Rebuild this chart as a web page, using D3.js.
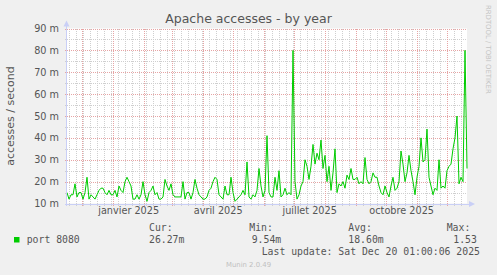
<!DOCTYPE html>
<html>
<head>
<meta charset="utf-8">
<script src="https://cdn.jsdelivr.net/npm/d3@7"></script>
<style>
  body { margin: 0; background: #f0f0f0; }
  svg { display: block; }
  text { font-family: "DejaVu Sans", sans-serif; fill: #555; }
  .mono { font-family: "DejaVu Sans Mono", monospace; }
</style>
</head>
<body>
<svg id="chart" width="497" height="275"></svg>
<script>
// accesses per second (in milli), one sample every 2 days
const accessesMilli = [
  15,12,14,14,19,13,15,15,12,15,
  22,12,14,13,12,14,16,17,17,15,
  14,16,14,14,16,13,18,16,15,20,
  22,20,18,12,12,14,12,14,20,14,
  11,15,16,18,14,15,12,12,13,21,
  18,16,19,14,13,13,13,13,20,12,
  15,15,12,15,21,17,14,13,12,12,
  13,16,17,20,22,21,14,13,12,18,
  14,14,22,15,11,12,13,14,16,14,
  29,13,
  12,14,13,16,26,18,13,16,
  41,15,13,13,22,16,25,13,14,17,
  14,15,14,80,20,12,14,18,20,30,
  27,21,27,37,28,33,30,39,26,32,
  20,27,16,24,35,15,19,18,20,17,
  23,21,26,21,21,22,19,20,19,31,
  21,
  19,20,24,22,22,18,15,14,18,15,
  13,18,22,16,17,20,34,28,20,24,
  32,25,20,14,22,27,40,29,30,44,
  22,18,14,17,16,30,17,18,17,25,
  27,28,35,40,50,19,22,20,80,26
];
const sampleDays = 2;
const rangeStart = Date.UTC(2024, 10, 16, 8);
const rangeEnd = Date.UTC(2025, 11, 21, 8);

const yTicks = [10, 20, 30, 40, 50, 60, 70, 80, 90];
const yMinorTicks = [15, 25, 35, 45, 55, 65, 75, 85];
const monthLabels = [
  { date: Date.UTC(2025, 0, 16, 12), label: "janvier 2025" },
  { date: Date.UTC(2025, 3, 16), label: "avril 2025" },
  { date: Date.UTC(2025, 6, 16, 12), label: "juillet 2025" },
  { date: Date.UTC(2025, 9, 16, 12), label: "octobre 2025" }
];
const legendHeads = ["Cur:", "Min:", "Avg:", "Max:"];
const legendValues = ["26.27m", "9.54m", "18.60m", "1.53"];

const svg = d3.select("#chart");
const dayMs = 864e5;
const data = accessesMilli.map((v, i) => ({ date: new Date(rangeStart + i * sampleDays * dayMs), v }));

const x = d3.scaleUtc()
  .domain([new Date(rangeStart), new Date(rangeEnd)])
  .range([67, 467]);
const y = d3.scaleLinear()
  .domain([10, 90])
  .range([203.5, 28.5]);

// background / canvas
svg.append("rect").attr("width", 497).attr("height", 275).attr("fill", "#f0f0f0");
svg.append("rect")
  .attr("x", x.range()[0]).attr("y", y.range()[1])
  .attr("width", x.range()[1] - x.range()[0])
  .attr("height", y.range()[0] - y.range()[1])
  .attr("fill", "#fff");

const grid = svg.append("g").attr("shape-rendering", "crispEdges").attr("stroke-dasharray", "1,1");

// minor grid
grid.selectAll(".hmin").data(yMinorTicks).enter().append("line")
  .attr("x1", x.range()[0] - 2).attr("x2", x.range()[1])
  .attr("y1", d => Math.round(y(d)) + 0.5).attr("y2", d => Math.round(y(d)) + 0.5)
  .attr("stroke", "#cfcfcf");
grid.selectAll(".vmin").data(d3.utcMonday.range(x.domain()[0], x.domain()[1])).enter().append("line")
  .attr("x1", d => Math.round(x(d)) + 0.5).attr("x2", d => Math.round(x(d)) + 0.5)
  .attr("y1", y.range()[1]).attr("y2", y.range()[0] + 2)
  .attr("stroke", "#cfcfcf");

// major grid
grid.selectAll(".hmaj").data(yTicks).enter().append("line")
  .attr("x1", x.range()[0] - 2).attr("x2", x.range()[1])
  .attr("y1", d => Math.round(y(d)) + 0.5).attr("y2", d => Math.round(y(d)) + 0.5)
  .attr("stroke", "#e6a4a4");
grid.selectAll(".vmaj").data(d3.utcMonth.range(x.domain()[0], x.domain()[1])).enter().append("line")
  .attr("x1", d => Math.round(x(d)) + 0.5).attr("x2", d => Math.round(x(d)) + 0.5)
  .attr("y1", y.range()[1]).attr("y2", y.range()[0] + 2)
  .attr("stroke", "#e6a4a4");

// axes text
const yAxis = d3.axisLeft(y).tickValues(yTicks).tickSize(0).tickPadding(8).tickFormat(d => d + " m");
svg.append("g")
  .attr("transform", `translate(${x.range()[0]},0)`)
  .call(yAxis)
  .call(g => g.select(".domain").remove())
  .selectAll("text")
  .style("font-family", "DejaVu Sans").style("font-size", "9.7px").attr("fill", "#555");

const xAxis = d3.axisBottom(x)
  .tickValues(monthLabels.map(d => new Date(d.date)))
  .tickSize(0).tickPadding(4)
  .tickFormat((d, i) => monthLabels[i].label);
svg.append("g")
  .attr("transform", `translate(0,${y.range()[0]})`)
  .call(xAxis)
  .call(g => g.select(".domain").remove())
  .selectAll("text")
  .style("font-family", "DejaVu Sans").style("font-size", "9.7px").attr("fill", "#555");

// data line
const line = d3.line()
  .x(d => x(d.date))
  .y(d => y(d.v));
svg.append("path")
  .datum(data)
  .attr("fill", "none")
  .attr("stroke", "#00cc00")
  .attr("stroke-width", 1)
  .attr("stroke-linejoin", "round")
  .attr("d", line);

// axis lines with arrows
const axisColor = "#c9cff6";
const x0 = x.range()[0] - 0.5, yb = y.range()[0] + 0.5;
svg.append("line").attr("x1", x0).attr("x2", x0).attr("y1", yb + 2).attr("y2", y.range()[1] - 5)
  .attr("stroke", axisColor).attr("shape-rendering", "crispEdges");
svg.append("line").attr("x1", x0 - 2).attr("x2", x.range()[1] + 4).attr("y1", yb).attr("y2", yb)
  .attr("stroke", axisColor).attr("shape-rendering", "crispEdges");
svg.append("path")
  .attr("d", `M${x0 - 3},${y.range()[1] - 2}L${x0 + 3},${y.range()[1] - 2}L${x0},${y.range()[1] - 8}Z`)
  .attr("fill", axisColor);
svg.append("path")
  .attr("d", `M${x.range()[1] + 2},${yb - 3}L${x.range()[1] + 2},${yb + 3}L${x.range()[1] + 8},${yb}Z`)
  .attr("fill", axisColor);

// title and labels
svg.append("text")
  .attr("x", 248.5).attr("y", 23)
  .attr("text-anchor", "middle")
  .style("font-size", "12.5px")
  .text("Apache accesses - by year");

svg.append("text")
  .attr("transform", `translate(14,${(y.range()[0] + y.range()[1]) / 2}) rotate(-90)`)
  .attr("text-anchor", "middle")
  .style("font-size", "11px")
  .text("accesses / second");

svg.append("text")
  .attr("transform", "translate(485.5,5) rotate(90)")
  .style("font-size", "6.9px")
  .attr("fill", "#c4c4c4")
  .style("fill", "#c4c4c4")
  .text("RRDTOOL / TOBI OETIKER");

// legend
const headX = [149, 249.3, 348.3, 446.7];
const valX = [149, 251.7, 348.3, 453.3];
svg.selectAll(".lhead").data(legendHeads).enter().append("text")
  .attr("class", "mono")
  .attr("x", (d, i) => headX[i]).attr("y", 231)
  .style("font-size", "9.8px")
  .text(d => d);
svg.selectAll(".lval").data(legendValues).enter().append("text")
  .attr("class", "mono")
  .attr("x", (d, i) => valX[i]).attr("y", 243)
  .style("font-size", "9.8px")
  .text(d => d);
svg.append("rect")
  .attr("x", 14).attr("y", 237).attr("width", 5.5).attr("height", 5.5)
  .attr("fill", "#00cc00");
svg.append("text")
  .attr("class", "mono")
  .attr("x", 26.7).attr("y", 243)
  .style("font-size", "9.8px")
  .text("port 8080");
svg.append("text")
  .attr("class", "mono")
  .attr("x", 261.7).attr("y", 254.5)
  .style("font-size", "9.8px")
  .text("Last update: Sat Dec 20 01:00:06 2025");

svg.append("text")
  .attr("x", 248.5).attr("y", 266.5)
  .attr("text-anchor", "middle")
  .style("font-size", "6.9px")
  .style("fill", "#c0c0c0")
  .text("Munin 2.0.49");
</script>
</body>
</html>
